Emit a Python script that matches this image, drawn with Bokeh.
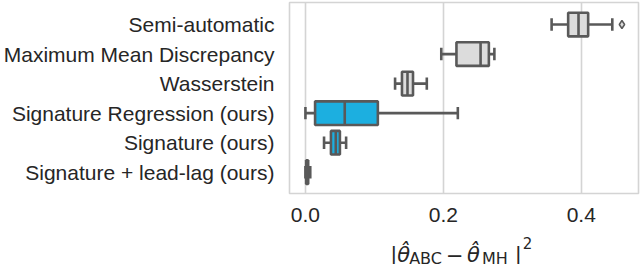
from bokeh.plotting import figure
from bokeh.models import Range1d, FixedTicker, ColumnDataSource, PrintfTickFormatter
from bokeh.layouts import column
from bokeh.embed import file_html
from bokeh.resources import INLINE
from bokeh.core.properties import value

categories = ["Semi-automatic", "Maximum Mean Discrepancy", "Wasserstein",
              "Signature Regression (ours)", "Signature (ours)",
              "Signature + lead-lag (ours)"]
whisker_low = [0.357, 0.197, 0.130, 0.000, 0.027, 0.000]
q1 = [0.381, 0.219, 0.140, 0.014, 0.037, 0.001]
median = [0.396, 0.254, 0.148, 0.057, 0.044, 0.002]
q3 = [0.410, 0.266, 0.156, 0.105, 0.050, 0.004]
whisker_high = [0.445, 0.274, 0.176, 0.221, 0.059, 0.007]
box_colors = ["#dcdcdc", "#dcdcdc", "#dcdcdc", "#1cafe0", "#1cafe0", "#1cafe0"]
outlier_category = ["Semi-automatic"]
outlier_value = [0.459]
x_ticks = [0.0, 0.2, 0.4]

LINE = "#595959"
TEXT = "#262626"
ypos = list(range(len(categories)))
BOX_H = 0.8
CAP_H = 0.42

src = ColumnDataSource(dict(
    y=ypos, lo=whisker_low, q1=q1, med=median, q3=q3, hi=whisker_high,
    color=box_colors,
    ybot=[y - BOX_H / 2 for y in ypos], ytop=[y + BOX_H / 2 for y in ypos],
    cbot=[y - CAP_H / 2 for y in ypos], ctop=[y + CAP_H / 2 for y in ypos],
))

W = 640
H1 = 231
H2 = 33
FL, FR = 288, 2
p = figure(width=W, height=H1, output_backend="svg", toolbar_location=None,
           x_range=Range1d(-0.0231, 0.483), y_range=Range1d(5.72, -0.746),
           min_border_left=FL, min_border_right=FR, min_border_top=2,
           min_border_bottom=H1 - 193)
p.background_fill_color = "white"
p.border_fill_color = "white"
p.outline_line_color = "#d4d4d4"
p.outline_line_width = 1.6

LW = 2.6
p.segment(x0="lo", y0="y", x1="q1", y1="y", source=src, line_color=LINE, line_width=LW)
p.segment(x0="q3", y0="y", x1="hi", y1="y", source=src, line_color=LINE, line_width=LW)
p.segment(x0="lo", y0="cbot", x1="lo", y1="ctop", source=src, line_color=LINE, line_width=LW)
p.segment(x0="hi", y0="cbot", x1="hi", y1="ctop", source=src, line_color=LINE, line_width=LW)
p.hbar(y="y", left="q1", right="q3", height=BOX_H, source=src, fill_color="color",
       line_color=LINE, line_width=LW)
p.segment(x0="med", y0="ybot", x1="med", y1="ytop", source=src, line_color=LINE, line_width=LW)
p.scatter(x=outlier_value, y=[categories.index(c) for c in outlier_category],
          marker="diamond", size=8, fill_color="#dcdcdc", line_color=LINE, line_width=1.5)

p.ygrid.grid_line_color = None
p.xgrid.grid_line_color = "#d4d4d4"
p.xgrid.grid_line_width = 1.6
p.xgrid.ticker = FixedTicker(ticks=x_ticks)

p.xaxis.ticker = FixedTicker(ticks=x_ticks)
p.xaxis.formatter = PrintfTickFormatter(format="%.1f")
p.yaxis.ticker = FixedTicker(ticks=ypos)
p.yaxis.major_label_overrides = {i: c for i, c in zip(ypos, categories)}
for ax in (p.xaxis[0], p.yaxis[0]):
    ax.axis_line_color = None
    ax.major_tick_line_color = None
    ax.minor_tick_line_color = None
    ax.major_tick_out = 0
    ax.major_tick_in = 0
    ax.major_label_text_font = "Liberation Sans"
    ax.major_label_text_font_size = "21px"
    ax.major_label_text_color = TEXT
p.yaxis.major_label_standoff = 15
p.xaxis.major_label_standoff = 14

# x-axis title |theta_ABC - theta_MH|^2 drawn as text in a strip below,
# whose frame lines up with the main frame (1 unit = 1 px)
FW = W - FL - FR
p2 = figure(width=W, height=H2, output_backend="svg", toolbar_location=None,
            x_range=Range1d(0, FW), y_range=Range1d(0, H2),
            x_axis_type=None, y_axis_type=None,
            min_border_left=FL, min_border_right=FR, min_border_top=0, min_border_bottom=0)
p2.outline_line_color = None
p2.background_fill_color = "white"
p2.border_fill_color = "white"

cx = FW / 2.0
base = 10
def put(texts, dxs, dy, size, style):
    p2.text(x=[cx + d for d in dxs], y=[base + dy] * len(texts), text=texts,
            text_font=value("DejaVu Sans"), text_font_size=size, text_font_style=style,
            text_color=TEXT, text_align="left", text_baseline="alphabetic")

put(["|", "\u2212", "|"], [-74, -18, 51], 0, "21px", "normal")
put(["\u03b8\u0302", "\u03b8\u0302"], [-67, 3], 0, "21px", "italic")
put(["ABC", "MH"], [-55, 18], -3.5, "16px", "normal")
put(["2"], [59], 12, "15px", "normal")

open("out.html", "w").write(file_html(column(p, p2, spacing=0), INLINE))
